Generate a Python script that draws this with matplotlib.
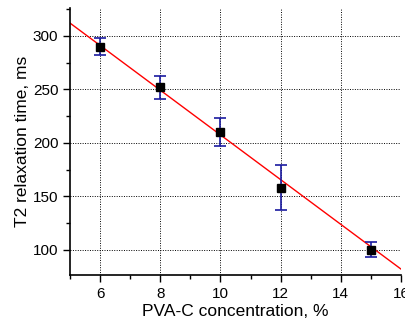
import numpy as np
import matplotlib
matplotlib.use("Agg")
import matplotlib.pyplot as plt
from matplotlib.ticker import MultipleLocator

plt.rcParams["font.family"] = ["Liberation Sans", "DejaVu Sans"]

# measured points
concentration = [6, 8, 10, 12, 15]
t2_time = [290, 252, 210, 158, 100]
t2_err = [8, 11, 13, 21, 7]

# linear fit
fit_x = [5, 16]
fit_y = [312, 82]

fig = plt.figure(figsize=(4.05, 3.26), dpi=100)
ax = fig.add_axes([0.173, 0.155, 0.817, 0.82])

ax.plot(fit_x, fit_y, color="red", linewidth=1.0, zorder=2)
ax.errorbar(concentration, t2_time, yerr=t2_err, fmt="s", color="black",
            markersize=5.5, ecolor="#1a1aa0", elinewidth=1.2, capsize=4,
            capthick=1.2, zorder=3)

ax.set_xlim(5, 16)
ax.set_ylim(76, 326)
ax.xaxis.set_major_locator(MultipleLocator(2))
ax.xaxis.set_minor_locator(MultipleLocator(1))
ax.yaxis.set_major_locator(MultipleLocator(50))
ax.yaxis.set_minor_locator(MultipleLocator(25))

ax.grid(True, which="major", color="black", linestyle=(0, (1, 1.5)), linewidth=0.7)
ax.spines["top"].set_visible(False)
ax.spines["right"].set_visible(False)
ax.spines["left"].set_linewidth(1.2)
ax.spines["bottom"].set_linewidth(1.2)
ax.tick_params(which="major", direction="out", length=5, width=1, labelsize=11)
ax.tick_params(which="minor", direction="out", length=3, width=1)

ax.set_xlabel("PVA-C concentration, %", fontsize=12.5, labelpad=2)
ax.set_ylabel("T2 relaxation time, ms", fontsize=12.5, labelpad=2)

fig.savefig("out.png", dpi=100)
